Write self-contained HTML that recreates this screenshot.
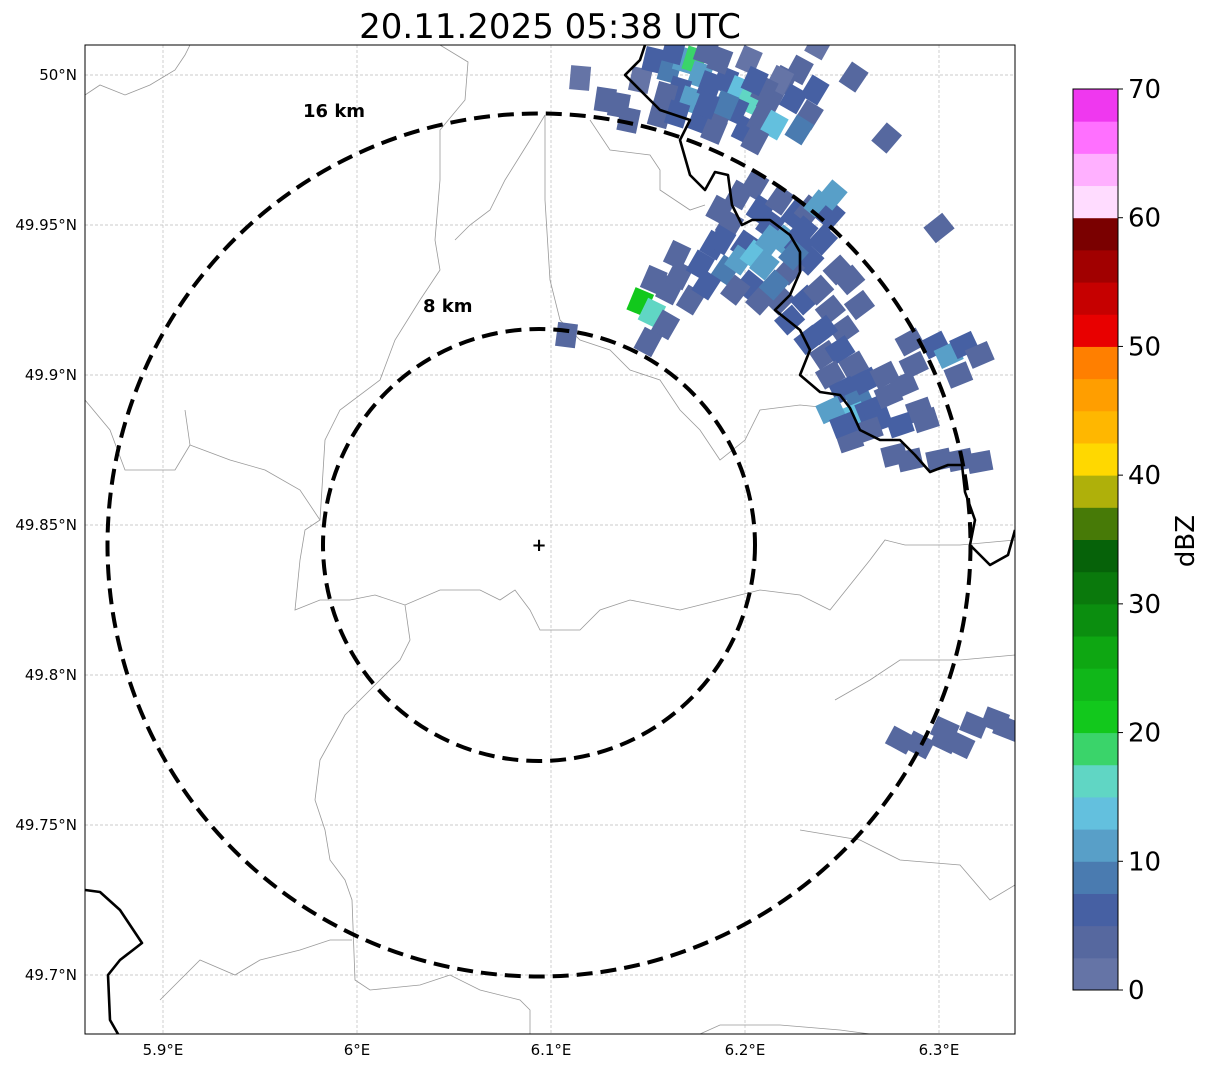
<!DOCTYPE html>
<html><head><meta charset="utf-8"><style>
html,body{margin:0;padding:0;background:#fff;}
svg{display:block;font-family:"DejaVu Sans","Liberation Sans",sans-serif;}
</style></head><body>
<svg id="chart" width="1207" height="1069" viewBox="0 0 1207 1069" xmlns="http://www.w3.org/2000/svg">
<text x="550" y="38" font-size="34" text-anchor="middle">20.11.2025 05:38 UTC</text>
<defs><clipPath id="mapclip"><rect x="85" y="45" width="930" height="989"/></clipPath></defs>
<g id="grid"></g>
<g clip-path="url(#mapclip)">
<g fill="none" stroke="#999" stroke-width="0.8">
<polyline points="85,95 100,85 125,95 150,85 175,70 185,55 190,45"/>
<polyline points="85,400 110,430 125,470 175,470 190,445 185,410"/>
<polyline points="190,445 230,460 265,470 300,490 320,520 305,530 300,560 295,610 320,600 350,600 375,595 405,605 440,590 480,590 500,600 515,590 530,610 540,630 580,630 600,610 630,600 680,610 720,600 760,590 800,595 830,610 870,560 885,540 905,545 960,545 1015,540"/>
<polyline points="405,605 410,640 400,660 380,680 345,715 320,760 315,800 325,830 330,860 345,880 352,900 355,980 370,990 420,985 450,975 480,990 520,1000 530,1010 530,1034"/>
<polyline points="440,45 468,62 465,100 440,130 440,180 435,240 440,270 420,300 395,340 380,380 340,410 325,440 320,520"/>
<polyline points="545,115 545,200 550,280 560,320 580,340 610,350 630,370 660,380 680,410 700,430 720,460 745,440 760,410 800,405 850,410"/>
<polyline points="545,115 530,140 505,180 490,210 470,225 455,240"/>
<polyline points="590,120 610,150 650,155 660,170 660,190 690,210 705,205"/>
<polyline points="835,700 870,680 900,660 960,660 1015,655"/>
<polyline points="800,830 860,840 900,860 960,865 990,900 1015,885"/>
<polyline points="160,1000 200,960 235,975 260,960 300,950 330,940 352,940"/>
<polyline points="700,1034 720,1025 780,1025 840,1030 870,1034"/>
</g>
<g id="echoes"></g>
<g fill="none" stroke="#000" stroke-width="2.6" stroke-linejoin="round">
<polyline points="645,45 640,60 625,75 640,90 660,110 690,120 680,140 690,175 705,190 715,172 728,175 732,205 742,225 752,220 770,220 790,235 800,252 800,272 790,295 775,310 800,330 810,350 800,375 820,392 840,395 850,408 860,430 880,440 900,440 915,455 930,472 948,465 962,465 965,492 975,520 970,545 990,565 1008,555 1015,530"/>
<polyline points="85,890 100,892 120,910 142,943 120,960 108,975 110,1020 118,1034"/>
</g>
<g fill="none" stroke="#000" stroke-width="4" stroke-dasharray="16,8">
<circle cx="539" cy="545" r="431.5"/>
<circle cx="539" cy="545" r="216"/>
</g>
</g>
<text x="303" y="117" font-size="18" font-weight="bold">16 km</text>
<text x="423" y="312" font-size="18" font-weight="bold">8 km</text>
<text x="539" y="551" font-size="18" font-weight="bold" text-anchor="middle">+</text>
<rect x="85" y="45" width="930" height="989" fill="none" stroke="#000" stroke-width="1"/>
<g id="ticks" font-size="15"></g>
<g id="cbar"></g>
<text transform="translate(1194,541) rotate(-90)" font-size="26" text-anchor="middle">dBZ</text>
</svg>
<script>
const lonTicks=[5.9,6.0,6.1,6.2,6.3];
const lonTickLabels=["5.9°E","6°E","6.1°E","6.2°E","6.3°E"];
const latTicks=[50.0,49.95,49.9,49.85,49.8,49.75,49.7];
const latTickLabels=["50°N","49.95°N","49.9°N","49.85°N","49.8°N","49.75°N","49.7°N"];
const cbarTicks=[0,10,20,30,40,50,60,70];
const cbarColors=["#6574a6","#56689f","#4660a3","#4a7bb0","#589fc8","#63c0de","#60d6c4","#3ad46a","#12c81c","#10b719","#0ea712","#0b8e0f","#0a790c","#066209","#477a07","#afb00a","#ffd800","#ffb700","#ff9e00","#ff7f00","#e80000","#c60000","#a10000","#7a0000","#ffdcff","#ffb0ff","#ff70ff","#ef38ef"];
const echoLon=[
6.128,6.135,6.146,6.153,6.161,6.169,6.174,6.177,6.166,6.159,
6.156,6.172,6.182,6.190,6.197,6.202,6.195,6.187,6.177,6.184,
6.200,6.208,6.213,6.220,6.228,6.236,6.233,6.228,6.218,6.115,
6.187,6.202,6.238,6.256,6.273,6.215,6.205,6.190,6.180,6.165,
6.210,6.225,6.205,6.140,6.163,6.180,
6.146,6.152,6.159,6.150,6.108,6.153,6.161,6.172,6.166,6.177,
6.184,6.192,6.187,6.197,6.205,6.200,6.208,6.213,6.218,6.226,
6.233,6.238,6.244,6.190,6.197,6.205,6.210,6.202,6.195,6.213,
6.220,6.228,6.233,6.223,6.218,6.208,6.223,6.231,6.238,6.244,
6.251,6.254,6.259,6.233,6.241,6.249,6.256,6.244,6.251,6.259,
6.256,6.264,6.269,6.274,6.282,6.287,6.298,6.305,6.313,6.321,
6.290,6.280,6.264,6.277,6.285,6.300,6.311,6.321,6.300,6.254,
6.244,6.251,6.293,6.285,6.180,6.188,6.215,6.225,6.240,6.248,
6.240,6.262,6.272,6.310,6.165,6.245,6.230,
6.280,6.290,6.303,6.311,6.318,6.329,6.335,6.303];
const echoLat=[
49.9917,49.990,49.9983,50.005,50.0017,50.005,50.005,50.000,49.995,49.9933,
49.9867,49.9917,49.9967,49.9983,49.995,49.9917,49.9883,49.9867,49.985,49.9817,
49.9817,49.985,49.9917,49.9983,50.0017,49.995,49.9867,49.9817,49.9983,49.999,
50.005,50.005,50.010,49.9993,49.979,49.9833,49.9783,49.990,49.990,49.987,
49.995,49.992,49.998,49.985,50.008,50.008,
49.9243,49.9207,49.9167,49.911,49.9133,49.9317,49.9283,49.925,49.9333,49.9367,
49.9433,49.950,49.955,49.960,49.9633,49.9433,49.955,49.950,49.9583,49.9533,
49.955,49.9567,49.9533,49.935,49.9383,49.940,49.9367,49.930,49.9283,49.945,
49.945,49.9433,49.9383,49.935,49.925,49.925,49.9183,49.925,49.9283,49.9217,
49.915,49.9317,49.9233,49.9117,49.9067,49.9083,49.9033,49.900,49.895,49.8917,
49.8867,49.8883,49.885,49.8933,49.8967,49.9033,49.910,49.9067,49.910,49.9067,
49.8883,49.8833,49.8817,49.8733,49.8717,49.8717,49.8717,49.871,49.949,49.8783,
49.8883,49.8833,49.885,49.911,49.930,49.945,49.930,49.940,49.945,49.935,
49.915,49.898,49.900,49.900,49.940,49.960,49.948,
49.7783,49.7767,49.7783,49.7767,49.7833,49.785,49.7823,49.7817];
const echoDbz=[
3,4,2,5,8,12,18,10,6,4,
3,12,6,5,14,15,7,4,5,3,
6,3,3,4,3,5,4,8,2,2,
3,2,2,3,3,13,4,8,7,5,
4,5,6,3,6,4,
21,16,4,3,3,3,3,3,4,5,
6,4,3,4,3,5,6,7,4,5,
3,12,6,8,12,14,12,7,4,11,
10,6,5,3,4,3,5,6,4,4,
3,3,3,5,4,6,3,4,5,8,
13,6,5,4,4,3,6,12,5,3,
4,5,4,3,4,4,3,3,3,4,
12,6,4,4,6,7,8,9,5,4,
6,5,4,4,4,10,6,
4,3,4,3,3,3,3,3];

const SVGNS="http://www.w3.org/2000/svg";
const x0=357,lonScale=1940,y0=75,latScale=3000;
function xScale(lon){return x0+(lon-6.0)*lonScale;}
function yScale(lat){return y0+(50.0-lat)*latScale;}
function mk(tag,attrs,parent){const e=document.createElementNS(SVGNS,tag);for(const k in attrs)e.setAttribute(k,attrs[k]);parent.appendChild(e);return e;}
function colorFor(v){if(v===undefined||isNaN(v))v=3;let i=Math.floor(v/2.5);if(i<0)i=0;if(i>27)i=27;return cbarColors[i];}

const grid=document.getElementById('grid');
const ticks=document.getElementById('ticks');
lonTicks.forEach((t,i)=>{
  const x=xScale(t);
  const l=mk('line',{x1:x,x2:x,y1:45,y2:1034,stroke:'#bbb','stroke-width':0.7,'stroke-dasharray':'3,2'},grid);
  
  
  const tx=mk('text',{x:x,y:1055,'text-anchor':'middle'},ticks);
  tx.textContent=lonTickLabels[i];
  
  
});
latTicks.forEach((t,i)=>{
  const y=yScale(t);
  const l=mk('line',{x1:85,x2:1015,y1:y,y2:y,stroke:'#bbb','stroke-width':0.7,'stroke-dasharray':'3,2'},grid);
  
  
  const tx=mk('text',{x:77,y:y+5,'text-anchor':'end'},ticks);
  tx.textContent=latTickLabels[i];
  
  
});

const echoes=document.getElementById('echoes');
const cx=539,cy=545;
const n=Math.min(echoLon.length,echoLat.length);
for(let i=0;i<n;i++){
  const x=xScale(echoLon[i]),y=yScale(echoLat[i]);
  const ang=Math.atan2(y-cy,x-cx)*180/Math.PI;
  const r=mk('rect',{x:x-12,y:y-10,width:24,height:20,fill:colorFor(echoDbz[i]),transform:`rotate(${ang} ${x} ${y})`},echoes);
  
  
}

const cbar=document.getElementById('cbar');
const cbTop=89,cbBot=990,cbX=1073,cbW=45;
function cbY(v){return cbBot-(v/70)*(cbBot-cbTop);}
cbarColors.forEach((c,i)=>{
  const ya=cbY((i+1)*2.5),yb=cbY(i*2.5);
  const r=mk('rect',{x:cbX,y:ya,width:cbW,height:yb-ya+0.5,fill:c},cbar);
  
  
});
const fr=mk('rect',{x:cbX,y:cbTop,width:cbW,height:cbBot-cbTop,fill:'none',stroke:'#000','stroke-width':1},cbar);


cbarTicks.forEach(t=>{
  const y=cbY(t);
  mk('line',{x1:cbX+cbW,x2:cbX+cbW+5,y1:y,y2:y,stroke:'#000'},cbar);
  const tx=mk('text',{x:1128,y:y+9,'font-size':26},cbar);
  tx.textContent=String(t);
  
  
});
</script>
</body></html>
